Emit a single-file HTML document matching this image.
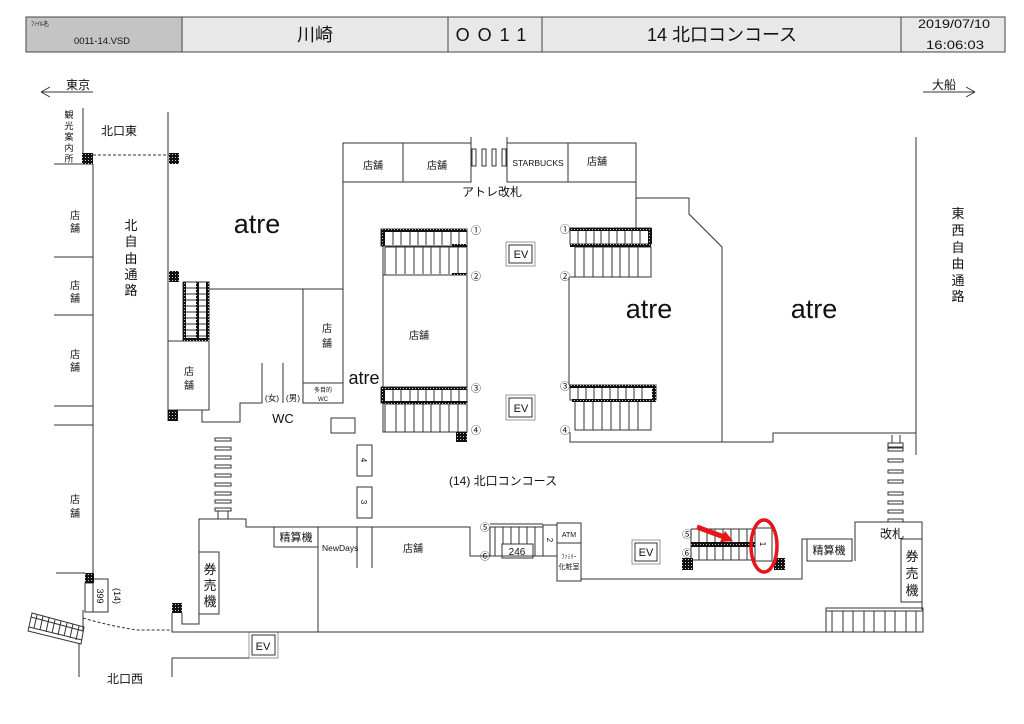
<!DOCTYPE html>
<html><head><meta charset="utf-8"><style>
html,body{margin:0;padding:0;background:#fff;}
svg{display:block;}
text{font-family:"Liberation Sans","Noto Sans CJK JP",sans-serif;fill:#111;}
</style></head><body>
<svg width="1024" height="724" viewBox="0 0 1024 724" xmlns="http://www.w3.org/2000/svg">
<defs>
<pattern id="h" width="3" height="3" patternUnits="userSpaceOnUse"><rect width="3" height="3" fill="#111"/><rect x="1" y="1" width="1" height="1" fill="#ccc"/></pattern>
</defs>
<rect width="1024" height="724" fill="#fff"/>
<!-- Header -->
<rect x="26" y="17" width="156" height="35" fill="#c4c4c4" stroke="#444"/>
<rect x="182" y="17" width="823" height="35" fill="#e8e8e8" stroke="#444"/>
<line x1="448" y1="17" x2="448" y2="52" stroke="#444"/>
<line x1="542" y1="17" x2="542" y2="52" stroke="#444"/>
<line x1="901" y1="17" x2="901" y2="52" stroke="#444"/>
<text x="31" y="26" font-size="6">ﾌｧｲﾙ名</text>
<text x="74" y="44" font-size="9" textLength="56" lengthAdjust="spacingAndGlyphs">0011-14.VSD</text>
<text x="315" y="41" font-size="18" text-anchor="middle">川崎</text>
<text x="495" y="41" font-size="18" text-anchor="middle" letter-spacing="8">OO11</text>
<text x="722" y="41" font-size="18" text-anchor="middle">14 北口コンコース</text>
<text x="918" y="28" font-size="12" textLength="72" lengthAdjust="spacingAndGlyphs">2019/07/10</text>
<text x="926" y="49" font-size="12" textLength="58" lengthAdjust="spacingAndGlyphs">16:06:03</text>

<g stroke="#333" stroke-width="1" fill="none">
<!-- direction arrows -->
<path d="M41 92H93M41 92L50 87M41 92L50 97"/>
<path d="M923 92H975M975 92L966 87M975 92L966 97"/>
<!-- left area -->
<path d="M83 108V164M54 164H93M168 112V421M93 164V573"/>
<path d="M54 257H93M54 315H93M54 406H93M54 425H93"/>
<path d="M93 155H169" stroke-dasharray="3,2"/>
<path d="M209 289H343M168 341H209V410H168M202 410V422H240V403H262V363M283 363V403"/>
<rect x="303" y="289" width="40" height="94"/>
<rect x="303" y="383" width="40" height="20"/>
<rect x="331" y="418" width="24" height="15"/>
<path d="M343 143V289"/>
<rect x="343" y="143" width="128" height="39"/>
<path d="M403 143V182M471 137V182M507 137V182"/>
<rect x="472" y="149" width="4" height="17"/>
<rect x="482" y="149" width="4" height="17"/>
<rect x="492" y="149" width="4" height="17"/>
<rect x="502" y="149" width="4" height="17"/>
<rect x="507" y="143" width="129" height="39"/>
<path d="M568 143V182M636 182V228M636 198H689V214L722 247V442"/>
<path d="M570 432V442H773V433H916M916 137V455"/>
<!-- left escalator -->
<rect x="183" y="282" width="26" height="59"/>
<path d="M186 288H207M186 294H207M186 300H207M186 306H207M186 312H207M186 318H207M186 324H207M186 330H207M186 336H207"/>
<!-- central-left escalators -->
<rect x="381" y="229" width="86" height="17"/>
<path d="M393 232V245M401 232V245M410 232V245M418 232V245M426 232V245M434 232V245M442 232V245M451 232V245M459 232V245"/>
<path d="M383 246V387M385 247H467V275M385 247V275M396 247V274M405 247V274M414 247V274M423 247V274M431 247V274M440 247V274M449 247V274M458 247V274"/>
<rect x="383" y="275" width="84" height="112"/>
<rect x="381" y="387" width="86" height="16"/>
<path d="M393 390V403M401 390V403M410 390V403M418 390V403M426 390V403M434 390V403M442 390V403M451 390V403M459 390V403"/>
<path d="M383 403V432H467V404H385V432M396 404V432M405 404V432M414 404V432M423 404V432M431 404V432M440 404V432M449 404V432M458 404V432"/>
<!-- central-right escalators -->
<rect x="570" y="228" width="81" height="16"/>
<path d="M578 231V244M586 231V244M594 231V244M601 231V244M609 231V244M617 231V244M625 231V244M632 231V244M640 231V244"/>
<rect x="575" y="247" width="76" height="30"/>
<path d="M584 247V277M593 247V277M603 247V277M612 247V277M620 247V277M629 247V277M638 247V277M570 277H586M569 277V385"/>
<rect x="570" y="385" width="86" height="15"/>
<path d="M578 388V400M586 388V400M594 388V400M602 388V400M610 388V400M618 388V400M626 388V400M634 388V400M642 388V400"/>
<rect x="575" y="401" width="76" height="29"/>
<path d="M584 401V430M593 401V430M602 401V430M611 401V430M620 401V430M629 401V430M638 401V430"/>
<!-- EV boxes -->
<rect x="506" y="242" width="29" height="24" stroke="#999"/>
<rect x="509" y="245" width="23" height="18"/>
<rect x="506" y="395" width="29" height="25" stroke="#999"/>
<rect x="509" y="398" width="23" height="19"/>
<rect x="632" y="540" width="28" height="24" stroke="#999"/>
<rect x="635" y="543" width="22" height="18"/>
<rect x="249" y="632" width="29" height="26" stroke="#999"/>
<rect x="252" y="635" width="23" height="20"/>
<!-- bottom-left -->
<rect x="215" y="438" width="16" height="3"/>
<rect x="215" y="447" width="16" height="3"/>
<rect x="215" y="456" width="16" height="3"/>
<rect x="215" y="465" width="16" height="3"/>
<rect x="215" y="474" width="16" height="3"/>
<rect x="215" y="483" width="16" height="3"/>
<rect x="215" y="492" width="16" height="3"/>
<rect x="215" y="500" width="16" height="3"/>
<rect x="215" y="508" width="16" height="3"/>
<path d="M218 511V519M228 511V519"/>
<path d="M182 613V624H199V519H246V527H470V556H490"/>
<path d="M172 613V632H923M172 658H249M172 658V677M79 643V677M83 610V632"/>
<rect x="199" y="552" width="20" height="62"/>
<rect x="274" y="527" width="44" height="20"/>
<path d="M318 527V632M357 527V568M372 527V568"/>
<rect x="357" y="445" width="15" height="31"/>
<rect x="357" y="487" width="15" height="31"/>
<path d="M56 573H85"/>
<rect x="85" y="583" width="8" height="29"/>
<rect x="93" y="579" width="15" height="33"/>
<path d="M83 618Q110 626 137 630H172" stroke-dasharray="3,2"/>
<path d="M32 613L84 627L81 644L28 631Z"/>
<path d="M31 617L83 631M29 627L82 640"/>
<path d="M37 615L34 628M43 616L40 630M49 618L46 632M55 620L52 633M61 621L58 635M67 623L64 636M73 624L70 638M79 626L76 640"/>
<!-- bottom-middle -->
<path d="M490 524H543M490 527H543M490 527V556H543M495 527V556M503 527V544M511 527V544M519 527V544M527 527V544M535 527V556"/>
<rect x="502" y="544" width="31" height="14"/>
<rect x="543" y="525" width="14" height="31"/>
<rect x="557" y="523" width="24" height="20"/>
<rect x="557" y="543" width="24" height="38"/>
<path d="M581 579H802V539H807"/>
<!-- bottom-right escalator -->
<path d="M691 529H755M691 560H755M691 529V560"/>
<path d="M699 529V560M707 529V560M715 529V560M723 529V560M731 529V560M739 529V560M747 529V560"/>
<rect x="755" y="528" width="17" height="33"/>
<rect x="807" y="539" width="45" height="22"/>
<path d="M855 561V522H922V610"/>
<rect x="901" y="539" width="21" height="63"/>
<rect x="888" y="443" width="15" height="4"/>
<path d="M892 435V443M900 435V443"/>
<rect x="888" y="448" width="15" height="3"/>
<rect x="888" y="459" width="15" height="3"/>
<rect x="888" y="470" width="15" height="3"/>
<rect x="888" y="480" width="15" height="3"/>
<rect x="888" y="492" width="15" height="3"/>
<rect x="888" y="501" width="15" height="3"/>
<rect x="888" y="510" width="15" height="3"/>
<rect x="888" y="519" width="15" height="3"/>
<rect x="826" y="608" width="97" height="24"/>
<path d="M832 611V632M843 611V632M853 611V632M864 611V632M874 611V632M885 611V632M895 611V632M906 611V632M916 611V632M826 611H923"/>
</g>

<!-- hatched squares / bands -->
<g fill="url(#h)">
<rect x="82" y="153" width="11" height="11"/>
<rect x="169" y="153" width="10" height="11"/>
<rect x="169" y="271" width="10" height="11"/>
<rect x="168" y="410" width="10" height="11"/>
<rect x="456" y="432" width="11" height="10"/>
<rect x="85" y="573" width="9" height="10"/>
<rect x="172" y="603" width="10" height="10"/>
<rect x="682" y="558" width="11" height="12"/>
<rect x="774" y="558" width="11" height="12"/>
<rect x="183" y="282" width="3" height="59"/>
<rect x="196" y="282" width="3" height="59"/>
<rect x="206" y="282" width="3" height="59"/>
<rect x="183" y="338" width="26" height="3"/>
<rect x="381" y="229" width="86" height="3"/>
<rect x="381" y="229" width="4" height="17"/>
<rect x="452" y="244" width="15" height="3"/>
<rect x="452" y="273" width="15" height="2"/>
<rect x="381" y="387" width="86" height="3"/>
<rect x="381" y="387" width="4" height="16"/>
<rect x="383" y="401" width="84" height="3"/>
<rect x="570" y="228" width="81" height="3"/>
<rect x="648" y="228" width="4" height="16"/>
<rect x="570" y="244" width="81" height="3"/>
<rect x="570" y="385" width="86" height="3"/>
<rect x="652" y="385" width="4" height="15"/>
<rect x="572" y="399" width="84" height="3"/>
<rect x="691" y="542" width="64" height="5"/>
</g>

<!-- labels -->
<text x="66" y="89" font-size="12">東京</text>
<text x="932" y="89" font-size="12">大船</text>
<g font-size="9" text-anchor="middle">
<text x="69" y="118">観</text><text x="69" y="129">光</text><text x="69" y="140">案</text><text x="69" y="151">内</text><text x="69" y="162">所</text>
</g>
<text x="101" y="135" font-size="12">北口東</text>
<g font-size="10" text-anchor="middle">
<text x="75" y="219">店</text><text x="75" y="232">舗</text>
<text x="75" y="289">店</text><text x="75" y="302">舗</text>
<text x="75" y="358">店</text><text x="75" y="371">舗</text>
<text x="75" y="503">店</text><text x="75" y="517">舗</text>
<text x="189" y="375">店</text><text x="189" y="389">舗</text>
<text x="327" y="332">店</text><text x="327" y="347">舗</text>
<text x="373" y="169">店舗</text>
<text x="437" y="169">店舗</text>
<text x="597" y="165">店舗</text>
<text x="419" y="339">店舗</text>
<text x="413" y="552">店舗</text>
</g>
<g font-size="13" text-anchor="middle">
<text x="131" y="230">北</text><text x="131" y="246">自</text><text x="131" y="263">由</text><text x="131" y="279">通</text><text x="131" y="295">路</text>
<text x="958" y="218">東</text><text x="958" y="235">西</text><text x="958" y="252">自</text><text x="958" y="268">由</text><text x="958" y="285">通</text><text x="958" y="301">路</text>
<text x="210" y="574">券</text><text x="210" y="590">売</text><text x="210" y="606">機</text>
<text x="912" y="561">券</text><text x="912" y="578">売</text><text x="912" y="595">機</text>
</g>
<g font-size="27" text-anchor="middle">
<text x="257" y="233">atre</text>
<text x="649" y="318">atre</text>
<text x="814" y="318">atre</text>
</g>
<text x="364" y="384" font-size="18" text-anchor="middle">atre</text>
<text x="323" y="392" font-size="6" text-anchor="middle">多目的</text>
<text x="323" y="401" font-size="6" text-anchor="middle">WC</text>
<text x="272" y="401" font-size="8.5" text-anchor="middle">(女)</text>
<text x="293" y="401" font-size="8.5" text-anchor="middle">(男)</text>
<text x="283" y="423" font-size="13" text-anchor="middle">WC</text>
<text x="462" y="196" font-size="12">アトレ改札</text>
<text x="538" y="166" font-size="8.5" text-anchor="middle">STARBUCKS</text>
<g font-size="11" text-anchor="middle">
<text x="521" y="258">EV</text>
<text x="521" y="412">EV</text>
<text x="646" y="556">EV</text>
<text x="263" y="650">EV</text>
</g>
<g font-size="10" text-anchor="middle">
<text x="476" y="234">①</text><text x="476" y="280">②</text><text x="476" y="392">③</text><text x="476" y="434">④</text>
<text x="565" y="233">①</text><text x="565" y="280">②</text><text x="565" y="390">③</text><text x="565" y="434">④</text>
<text x="485" y="531">⑤</text><text x="485" y="560">⑥</text>
<text x="687" y="538">⑤</text><text x="687" y="557">⑥</text>
</g>
<text x="449" y="485" font-size="12">(14) 北口コンコース</text>
<text x="296" y="541" font-size="11" text-anchor="middle">精算機</text>
<text x="829" y="554" font-size="11" text-anchor="middle">精算機</text>
<text x="892" y="538" font-size="12" text-anchor="middle">改札</text>
<text x="322" y="551" font-size="8.5">NewDays</text>
<text x="517" y="555" font-size="10" text-anchor="middle">246</text>
<text x="569" y="537" font-size="7" text-anchor="middle">ATM</text>
<text x="569" y="559" font-size="6" text-anchor="middle">ﾌｧﾐﾘｰ</text>
<text x="569" y="569" font-size="7" text-anchor="middle">化粧室</text>
<text x="107" y="683" font-size="12">北口西</text>
<text transform="rotate(90 364 460)" x="364" y="463" font-size="8" text-anchor="middle">4</text>
<text transform="rotate(90 364 502)" x="364" y="505" font-size="8" text-anchor="middle">3</text>
<text transform="rotate(90 550 540)" x="550" y="543" font-size="8" text-anchor="middle">2</text>
<text transform="rotate(90 763 544)" x="763" y="547" font-size="8" text-anchor="middle">1</text>
<text transform="rotate(90 100 596)" x="100" y="599" font-size="9" text-anchor="middle">399</text>
<text transform="rotate(90 117 596)" x="117" y="599" font-size="9" text-anchor="middle">(14)</text>

<!-- red marks -->
<ellipse cx="764" cy="546" rx="13" ry="26" fill="none" stroke="#e8141b" stroke-width="3.5"/>
<line x1="697" y1="527" x2="724" y2="537" stroke="#e8141b" stroke-width="5"/>
<polygon points="733,541 720,542 725,531" fill="#e8141b"/>
</svg>
</body></html>
